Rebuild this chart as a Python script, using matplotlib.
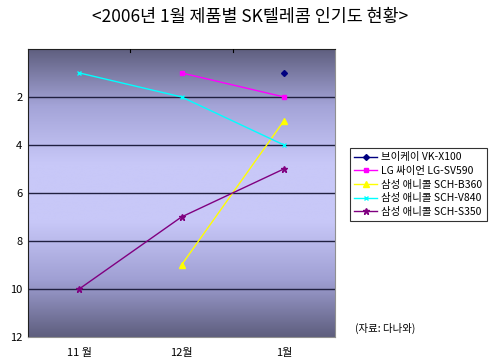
import numpy as np
import matplotlib
matplotlib.use("Agg")
import matplotlib.pyplot as plt
from matplotlib.colors import LinearSegmentedColormap

plt.rcParams['font.family'] = ['Noto Sans CJK KR', 'DejaVu Sans']

categories = ['11 월', '12월', '1월']
series_names = ['브이케이 VK-X100', 'LG 싸이언 LG-SV590', '삼성 애니콜 SCH-B360',
                '삼성 애니콜 SCH-V840', '삼성 애니콜 SCH-S350']
vk_x100 = [np.nan, np.nan, 1]
lg_sv590 = [np.nan, 1, 2]
sch_b360 = [np.nan, 9, 3]
sch_v840 = [1, 2, 4]
sch_s350 = [10, 7, 5]
yticks = [2, 4, 6, 8, 10, 12]

series = [vk_x100, lg_sv590, sch_b360, sch_v840, sch_s350]
colors = ['#000080', '#FF00FF', '#FFFF00', '#00FFFF', '#800080']
markers = ['D', 's', '^', 'x', '*']
msizes = [3, 3.5, 4, 3.5, 4.5]

fig = plt.figure(figsize=(5, 3.57), dpi=100)
ax = fig.add_axes([0.056, 0.056, 0.614, 0.807])

cmap = LinearSegmentedColormap.from_list('g', ['#5e5e7e', '#a4a4d8', '#c8c8f8', '#c8c8f8', '#a0a0d4', '#5e5e7e'])
grad = np.linspace(0, 1, 256).reshape(-1, 1)
ax.imshow(grad, cmap=cmap, aspect='auto', extent=[0, 3, 12, 0], zorder=0, interpolation='bicubic')

x = np.arange(len(categories)) + 0.5
for s, c, m, ms, name in zip(series, colors, markers, msizes, series_names):
    ax.plot(x, s, color=c, marker=m, markersize=ms, linewidth=1, label=name, zorder=3,
            markeredgewidth=1)

ax.set_xlim(0, 3)
ax.set_ylim(12, 0)
ax.set_yticks(yticks)
ax.set_yticklabels([str(v) for v in yticks], fontsize=8)
for v in [2, 4, 6, 8, 10]:
    ax.axhline(v, color='#202040', linewidth=1, zorder=1)

ax.set_xticks(x)
ax.set_xticklabels(categories, fontsize=8)
ax.tick_params(axis='x', length=0, pad=8)
ax.tick_params(axis='y', length=0, pad=4)
for b in [1, 2]:
    ax.plot([b, b], [0, 0.12], color='black', linewidth=0.8, zorder=4)
for sp in ['top', 'left']:
    ax.spines[sp].set_color('#202020')
for sp in ['right', 'bottom']:
    ax.spines[sp].set_color('#909090')

leg = fig.legend(loc='upper left', bbox_to_anchor=(0.70, 0.585), fontsize=7.5,
                 frameon=True, fancybox=False, edgecolor='black', borderpad=0.4,
                 handlelength=2.2, labelspacing=0.35, handletextpad=0.4, borderaxespad=0)
leg.get_frame().set_linewidth(0.8)

fig.text(0.5, 0.952, '<2006년 1월 제품별 SK텔레콤 인기도 현황>', ha='center', va='center', fontsize=12.5)
fig.text(0.71, 0.08, '(자료: 다나와)', ha='left', va='center', fontsize=7.5)

fig.savefig('out.png', dpi=100)
